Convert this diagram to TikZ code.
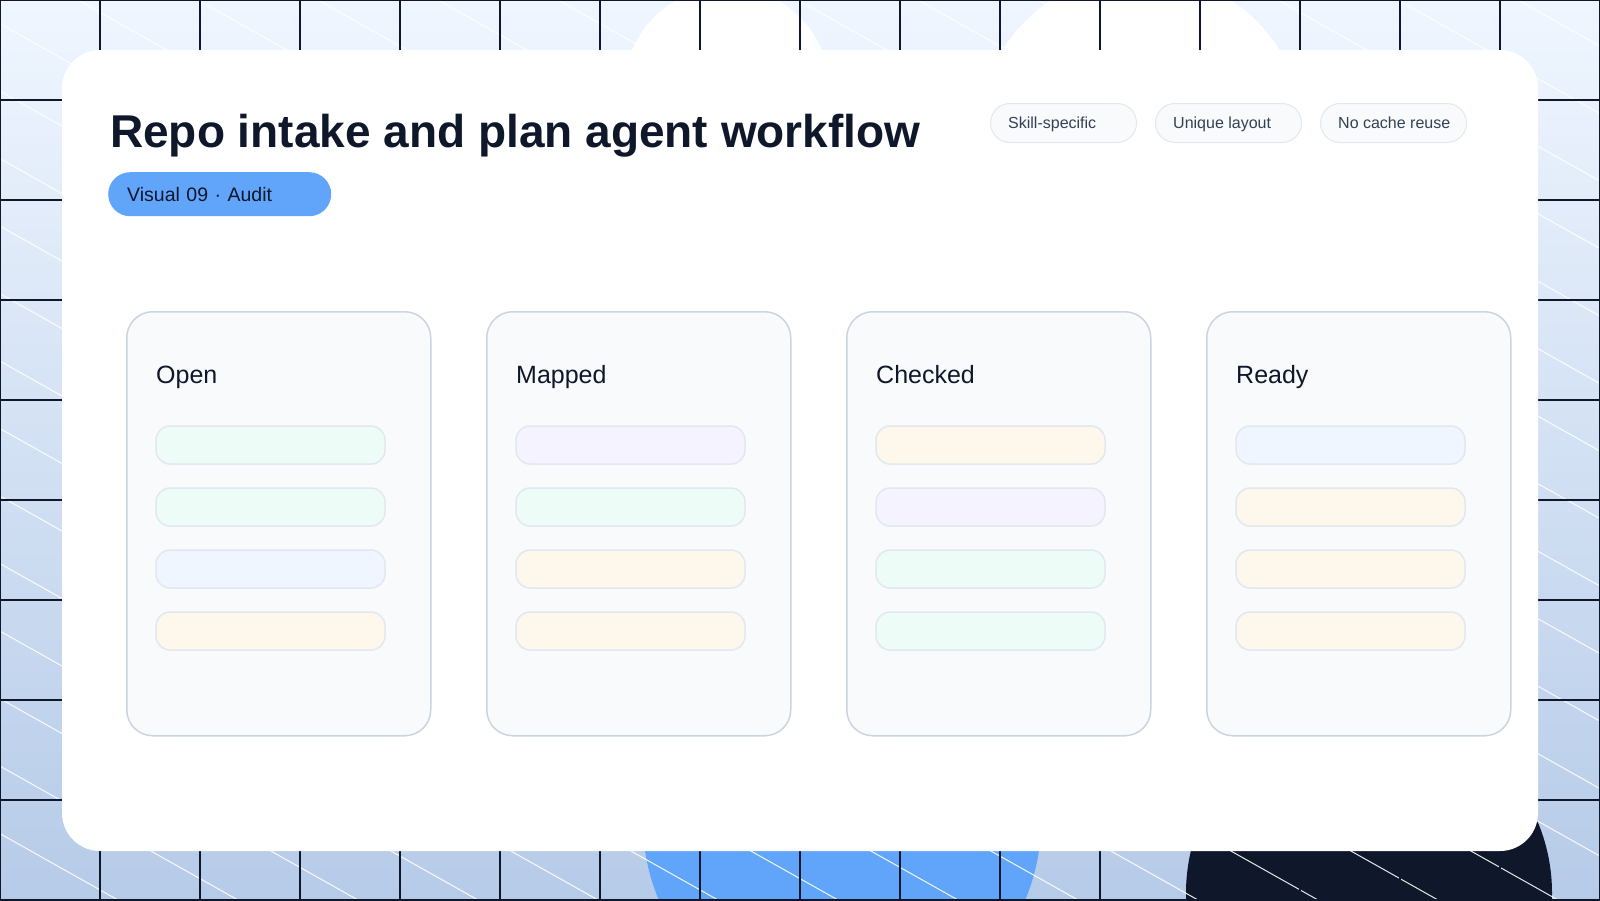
\documentclass[tikz,border=0pt]{standalone}
\usepackage{fontspec}
\setmainfont{Liberation Sans}
\usetikzlibrary{positioning}

\definecolor{ink}{HTML}{0F172A}
\definecolor{slatetxt}{HTML}{334155}
\definecolor{bgtop}{HTML}{EFF6FF}
\definecolor{bgbot}{HTML}{B6CBE8}
\definecolor{blueball}{HTML}{60A5FA}
\definecolor{colfill}{HTML}{F8FAFC}
\definecolor{colline}{HTML}{CBD5E1}
\definecolor{barline}{HTML}{E2E8F0}
\definecolor{mint}{HTML}{EEFCF8}
\definecolor{violet}{HTML}{F5F3FF}
\definecolor{amber}{HTML}{FEF7EC}
\definecolor{sky}{HTML}{EFF6FF}

\begin{document}
\begin{tikzpicture}[
    x = 1pt, y = -1pt,
    every node/.append style = {inner sep = 0pt, text = ink},
    grid line/.style = {draw = ink, line width = 1.2pt},
    hatch/.style = {draw = white, line width = 1pt, opacity = 0.9},
    tag/.style = {draw = barline, fill = colfill, line width = 1pt, rounded corners = 19.5pt,
        minimum width = 146pt, minimum height = 39pt, anchor = north west},
    tag lbl/.style = {anchor = base west, text = slatetxt, font = \fontsize{16}{19}\selectfont},
    badge/.style = {fill = blueball, rounded corners = 22pt, minimum height = 44pt,
        text width = 185pt, inner xsep = 19pt, align = left, anchor = north west,
        font = \fontsize{19.5}{24}\selectfont},
    column/.style = {draw = colline, fill = colfill, line width = 1.5pt, rounded corners = 26pt,
        minimum width = 304pt, minimum height = 424pt, anchor = north west},
    col lbl/.style = {anchor = base west, font = \fontsize{25}{30}\selectfont},
    bar/.style = {draw = barline, line width = 1.5pt, rounded corners = 14pt,
        minimum width = 229pt, minimum height = 38pt}
]
\useasboundingbox (0,0) rectangle (1600,900);

\fill[top color = bgtop, bottom color = bgbot] (0,0) rectangle (1600,900);

\fill[white] (727,90) circle[radius = 103pt];
\fill[white] (1141,136) circle[radius = 163pt];
\fill[blueball] (842,822) circle[radius = 199pt];
\fill[ink] (1369,893) circle[radius = 183pt];

\begin{scope}
    \clip (0,0) rectangle (1600,900);
    \foreach \k in {-14,...,12}
        \draw[hatch] ({78+120*\k},0) -- ++(1600,900);
    \foreach \gx in {0,100,...,1600}
        \draw[grid line] (\gx,0) -- (\gx,900);
    \foreach \gy in {0,100,...,900}
        \draw[grid line] (0,\gy) -- (1600,\gy);
\end{scope}

\fill[white, rounded corners = 38pt] (62,50) rectangle (1538,851);

\node[anchor = base west, font = \bfseries\fontsize{46}{54}\selectfont] (title) at (110,147)
    {Repo intake and plan agent workflow};
\node[badge] (badge) at (108,172) {Visual 09 · Audit};

\foreach \t/\lbl in {0/Skill-specific,1/Unique layout,2/No cache reuse}{
    \node[tag] (tag\t) at ({990+165*\t},103) {};
    \node[tag lbl] (tagl\t) at ([xshift = 18pt, yshift = -5.5pt]tag\t.west) {\lbl};
}

\foreach \i/\lbl/\ca/\cb/\cc/\cd in {0/Open/mint/mint/sky/amber,
        1/Mapped/violet/mint/amber/amber,
        2/Checked/amber/violet/mint/mint,
        3/Ready/sky/amber/amber/amber}{
    \node[column] (col\i) at ({126+360*\i},311) {};
    \node[col lbl] (lbl\i) at ({156+360*\i},383) {\lbl};
    \foreach \c [count = \j from 0] in {\ca,\cb,\cc,\cd}
        \node[bar, fill = \c] (bar\i\j) at ({270.5+360*\i},{445+62*\j}) {};
}

\end{tikzpicture}
\end{document}
